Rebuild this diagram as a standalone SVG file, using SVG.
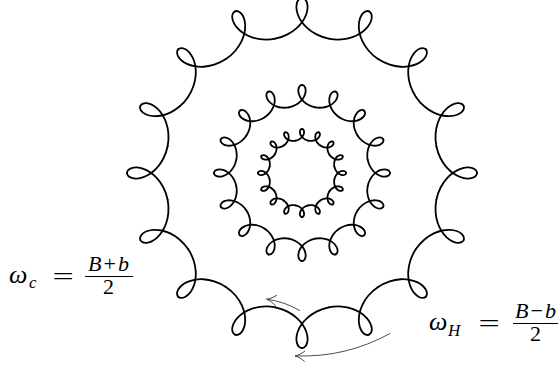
<svg xmlns="http://www.w3.org/2000/svg" width="559" height="369" viewBox="0 0 559 369">
<style>
.ring{fill:none;stroke:#000;stroke-width:1.8;stroke-linecap:round;stroke-linejoin:round}
.arr{fill:none;stroke:#3a3a3a;stroke-width:0.9}
text{fill:#000}
</style>
<defs>
<path id="ho" d="M0,-175 C-1.003,-175 -2.006,-174.594 -2.876,-173.806 C-3.745,-173.017 -4.479,-171.847 -4.963,-170.362 C-5.446,-168.878 -5.677,-167.080 -5.570,-165.072 C-5.463,-163.064 -5.016,-160.848 -4.185,-158.551 C-3.353,-156.253 -2.137,-153.875 -0.537,-151.553 C1.063,-149.230 3.047,-146.964 5.368,-144.882 C8.020,-142.501 11.112,-140.363 14.509,-138.617 C18.290,-136.673 22.448,-135.219 26.727,-134.368"/>
<path id="hm" d="M0,-88 C-0.622,-88 -1.244,-87.776 -1.792,-87.342 C-2.340,-86.908 -2.814,-86.264 -3.149,-85.446 C-3.484,-84.629 -3.679,-83.640 -3.687,-82.535 C-3.696,-81.430 -3.516,-80.211 -3.124,-78.947 C-2.733,-77.684 -2.128,-76.377 -1.311,-75.102 C-0.494,-73.826 0.536,-72.582 1.751,-71.441 C3.140,-70.136 4.772,-68.966 6.573,-68.014 C8.578,-66.954 10.791,-66.166 13.071,-65.713"/>
<path id="hi" d="M0,-44 C-0.342,-44 -0.684,-43.883 -0.988,-43.656 C-1.291,-43.429 -1.556,-43.092 -1.747,-42.665 C-1.939,-42.237 -2.057,-41.720 -2.078,-41.142 C-2.099,-40.565 -2.021,-39.927 -1.832,-39.267 C-1.643,-38.607 -1.342,-37.924 -0.930,-37.258 C-0.519,-36.592 0.004,-35.942 0.625,-35.347 C1.334,-34.666 2.170,-34.056 3.095,-33.560 C4.125,-33.009 5.264,-32.600 6.438,-32.366"/>
<g id="po"><use href="#ho"/><use href="#ho" transform="scale(-1,1)"/></g>
<g id="pm"><use href="#hm"/><use href="#hm" transform="scale(-1,1)"/></g>
<g id="pi"><use href="#hi"/><use href="#hi" transform="scale(-1,1)"/></g>
<marker id="to" markerUnits="userSpaceOnUse" orient="auto" refX="0" refY="0" markerWidth="1" markerHeight="1" overflow="visible">
<path d="M-9.5,-5 C-6,-2.2 -2.5,-0.5 0,0 C-2.5,0.5 -6,2.2 -9.5,5" fill="none" stroke="#3a3a3a" stroke-width="0.9" stroke-linecap="round"/>
</marker>
</defs>
<rect width="559" height="369" fill="#fff"/>
<g id="ring-outer" class="ring" transform="translate(302,173)">
<use href="#po"/><use href="#po" transform="rotate(22.5)"/><use href="#po" transform="rotate(45)"/><use href="#po" transform="rotate(67.5)"/>
<use href="#po" transform="rotate(90)"/><use href="#po" transform="rotate(112.5)"/><use href="#po" transform="rotate(135)"/><use href="#po" transform="rotate(157.5)"/>
<use href="#po" transform="rotate(180)"/><use href="#po" transform="rotate(202.5)"/><use href="#po" transform="rotate(225)"/><use href="#po" transform="rotate(247.5)"/>
<use href="#po" transform="rotate(270)"/><use href="#po" transform="rotate(292.5)"/><use href="#po" transform="rotate(315)"/><use href="#po" transform="rotate(337.5)"/>
</g>
<g id="ring-middle" class="ring" transform="translate(302,173)">
<use href="#pm"/><use href="#pm" transform="rotate(22.5)"/><use href="#pm" transform="rotate(45)"/><use href="#pm" transform="rotate(67.5)"/>
<use href="#pm" transform="rotate(90)"/><use href="#pm" transform="rotate(112.5)"/><use href="#pm" transform="rotate(135)"/><use href="#pm" transform="rotate(157.5)"/>
<use href="#pm" transform="rotate(180)"/><use href="#pm" transform="rotate(202.5)"/><use href="#pm" transform="rotate(225)"/><use href="#pm" transform="rotate(247.5)"/>
<use href="#pm" transform="rotate(270)"/><use href="#pm" transform="rotate(292.5)"/><use href="#pm" transform="rotate(315)"/><use href="#pm" transform="rotate(337.5)"/>
</g>
<g id="ring-inner" class="ring" transform="translate(302,173)">
<use href="#pi"/><use href="#pi" transform="rotate(22.5)"/><use href="#pi" transform="rotate(45)"/><use href="#pi" transform="rotate(67.5)"/>
<use href="#pi" transform="rotate(90)"/><use href="#pi" transform="rotate(112.5)"/><use href="#pi" transform="rotate(135)"/><use href="#pi" transform="rotate(157.5)"/>
<use href="#pi" transform="rotate(180)"/><use href="#pi" transform="rotate(202.5)"/><use href="#pi" transform="rotate(225)"/><use href="#pi" transform="rotate(247.5)"/>
<use href="#pi" transform="rotate(270)"/><use href="#pi" transform="rotate(292.5)"/><use href="#pi" transform="rotate(315)"/><use href="#pi" transform="rotate(337.5)"/>
</g>
<g id="connectors">
<path class="arr" d="M300,310.7 Q284.5,301.5 266.5,299.2" marker-end="url(#to)"/>
<path class="arr" d="M390.2,333.4 A183,183 0 0 1 295,355.9" marker-end="url(#to)"/>
</g>
<g id="label-wc" font-family="'Liberation Serif', 'Times New Roman', serif">
<text x="9" y="283" font-size="26" font-style="italic">ω</text>
<text x="29" y="288" font-size="17" font-style="italic">c</text>
<text transform="translate(63,285) scale(1.45,1)" font-size="26" text-anchor="middle">=</text>
<text x="108.5" y="271" font-size="22" text-anchor="middle"><tspan font-style="italic">B</tspan><tspan dx="2">+</tspan><tspan dx="2" font-style="italic">b</tspan></text>
<line x1="85" y1="276.5" x2="133" y2="276.5" stroke="#000" stroke-width="1"/>
<text x="108.5" y="293.5" font-size="22" text-anchor="middle">2</text>
</g>
<g id="label-wh" font-family="'Liberation Serif', 'Times New Roman', serif">
<text x="429" y="330" font-size="26" font-style="italic">ω</text>
<text x="448" y="336" font-size="17" font-style="italic">H</text>
<text transform="translate(489,332) scale(1.45,1)" font-size="26" text-anchor="middle">=</text>
<text x="535.5" y="318" font-size="22" text-anchor="middle"><tspan font-style="italic">B</tspan><tspan dx="2">−</tspan><tspan dx="2" font-style="italic">b</tspan></text>
<line x1="513" y1="323.5" x2="558" y2="323.5" stroke="#000" stroke-width="1"/>
<text x="535.5" y="340.5" font-size="22" text-anchor="middle">2</text>
</g>
</svg>
